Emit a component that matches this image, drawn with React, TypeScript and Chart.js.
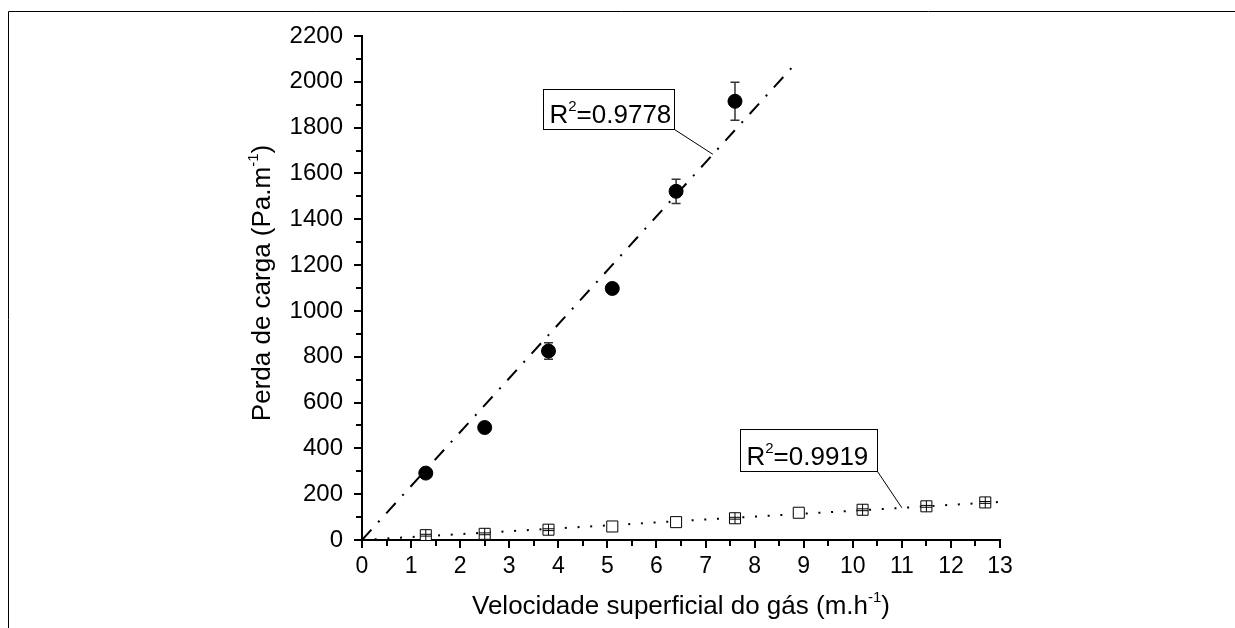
import React, { useEffect, useRef } from 'react';
import { Chart, registerables } from 'chart.js';

Chart.register(...registerables);

const FONT = '"Liberation Sans", Arial, Helvetica, sans-serif';

// ---- data ----
const upperX = [1.3, 2.5, 3.8, 5.1, 6.4, 7.6];
const upperY = [292, 491, 825, 1098, 1522, 1915];
const upperErr = [8, 6, 36, 10, 53, 83];

const lowerX = [1.3, 2.5, 3.8, 5.1, 6.4, 7.6, 8.9, 10.2, 11.5, 12.7];
const lowerY = [21, 27, 45, 59, 78, 95, 119, 132, 147, 164];
const lowerErr = [4, 4, 4, 0, 0, 4, 0, 4, 4, 4];

const upperFitRange = [0, 8.75];
const lowerFitRange = [0, 13];

const r2Values = ['0.9778', '0.9919'];
const r2AnchorX = [7.15, 11.0];

const xMin = 0;
const xMax = 13;
const xStep = 1;
const yMin = 0;
const yMax = 2200;
const yStep = 200;

const xTitleParts: [string, boolean][] = [['Velocidade superficial do gás (m.h', false], ['-1', true], [')', false]];
const yTitleParts: [string, boolean][] = [['Perda de carga (Pa.m', false], ['-1', true], [')', false]];

function slopeThroughOrigin(xs: number[], ys: number[]) {
  let sxy = 0;
  let sxx = 0;
  xs.forEach((x, i) => {
    sxy += x * ys[i];
    sxx += x * x;
  });
  return sxy / sxx;
}

const upperSlope = slopeThroughOrigin(upperX, upperY);
const lowerSlope = slopeThroughOrigin(lowerX, lowerY);

function drawRich(
  ctx: CanvasRenderingContext2D,
  parts: [string, boolean][],
  x: number,
  y: number,
  size: number,
  supSize: number,
  supRaise: number,
  align: 'left' | 'center'
) {
  const widths = parts.map(([t, sup]) => {
    ctx.font = `${sup ? supSize : size}px ${FONT}`;
    return ctx.measureText(t).width;
  });
  const total = widths.reduce((a, b) => a + b, 0);
  let cx = align === 'center' ? x - total / 2 : x;
  ctx.textAlign = 'left';
  ctx.textBaseline = 'alphabetic';
  parts.forEach(([t, sup], i) => {
    ctx.font = `${sup ? supSize : size}px ${FONT}`;
    ctx.fillText(t, cx, sup ? y - supRaise : y);
    cx += widths[i];
  });
  return total;
}

const customPlugin = {
  id: 'customDecor',
  beforeDatasetsDraw(chart: any) {
    const ctx: CanvasRenderingContext2D = chart.ctx;
    const xs = chart.scales.x;
    const ys = chart.scales.y;
    ctx.save();
    // upper error bars (behind the filled circles)
    ctx.strokeStyle = '#333';
    ctx.lineWidth = 1.5;
    upperX.forEach((xv, i) => {
      const e = upperErr[i];
      if (!e) return;
      const px = xs.getPixelForValue(xv);
      const p1 = ys.getPixelForValue(upperY[i] - e);
      const p2 = ys.getPixelForValue(upperY[i] + e);
      ctx.beginPath();
      ctx.moveTo(px, p1);
      ctx.lineTo(px, p2);
      ctx.moveTo(px - 4.5, p1);
      ctx.lineTo(px + 4.5, p1);
      ctx.moveTo(px - 4.5, p2);
      ctx.lineTo(px + 4.5, p2);
      ctx.stroke();
    });
    ctx.restore();
  },
  afterDatasetsDraw(chart: any) {
    const ctx: CanvasRenderingContext2D = chart.ctx;
    const xs = chart.scales.x;
    const ys = chart.scales.y;
    ctx.save();
    // lower error bars (inside squares)
    ctx.strokeStyle = '#000';
    ctx.lineWidth = 1;
    lowerX.forEach((xv, i) => {
      const e = lowerErr[i];
      if (!e) return;
      const px = xs.getPixelForValue(xv);
      const pc = ys.getPixelForValue(lowerY[i]);
      const p1 = ys.getPixelForValue(lowerY[i] - e);
      const p2 = ys.getPixelForValue(lowerY[i] + e);
      ctx.beginPath();
      ctx.moveTo(px, pc - 5.5);
      ctx.lineTo(px, pc + 5.5);
      ctx.moveTo(px - 5.5, p1);
      ctx.lineTo(px + 5.5, p1);
      ctx.moveTo(px - 5.5, p2);
      ctx.lineTo(px + 5.5, p2);
      ctx.stroke();
    });
    ctx.restore();
  },
  afterDraw(chart: any) {
    const ctx: CanvasRenderingContext2D = chart.ctx;
    const xs = chart.scales.x;
    const ys = chart.scales.y;
    const area = chart.chartArea;
    ctx.save();
    // frame
    ctx.strokeStyle = '#000';
    ctx.lineWidth = 1;
    ctx.beginPath();
    ctx.moveTo(8.5, chart.height);
    ctx.lineTo(8.5, 11.5);
    ctx.lineTo(chart.width, 11.5);
    ctx.stroke();

    // minor ticks
    ctx.lineWidth = 2;
    ctx.beginPath();
    for (let v = yMin + yStep / 2; v < yMax; v += yStep) {
      const py = Math.round(ys.getPixelForValue(v));
      ctx.moveTo(area.left - 1, py);
      ctx.lineTo(area.left - 6, py);
    }
    for (let v = xMin + xStep / 2; v < xMax; v += xStep) {
      const px = Math.round(xs.getPixelForValue(v));
      ctx.moveTo(px, area.bottom + 1);
      ctx.lineTo(px, area.bottom + 6);
    }
    ctx.stroke();

    ctx.fillStyle = '#000';
    // x title
    drawRich(ctx, xTitleParts, (area.left + area.right) / 2, 614, 26, 15, 12, 'center');
    // y title
    ctx.save();
    ctx.translate(270, 283);
    ctx.rotate(-Math.PI / 2);
    drawRich(ctx, yTitleParts, 0, 0, 26, 15, 12, 'center');
    ctx.restore();

    // R² labels
    const slopes = [upperSlope, lowerSlope];
    const offsets = [
      [-39, -25, 131, 40],
      [-25, -37, 137, 42],
    ];
    r2Values.forEach((val, i) => {
      const ax = xs.getPixelForValue(r2AnchorX[i]);
      const ay = ys.getPixelForValue(slopes[i] * r2AnchorX[i]);
      const [dx, dy, w, h] = offsets[i];
      const bx = Math.round(ax + dx) + 0.5;
      const by = Math.round(ay + dy) + 0.5;
      ctx.lineWidth = 1;
      ctx.strokeStyle = '#000';
      ctx.fillStyle = '#fff';
      ctx.fillRect(bx - w, by - h, w, h);
      ctx.strokeRect(bx - w, by - h, w, h);
      ctx.beginPath();
      ctx.moveTo(bx, by);
      ctx.lineTo(ax, ay);
      ctx.stroke();
      ctx.fillStyle = '#000';
      drawRich(
        ctx,
        [['R', false], ['2', true], ['=' + val, false]],
        bx - w + 6,
        by - 7,
        26,
        15,
        12,
        'left'
      );
    });
    ctx.restore();
  },
};

export default function App() {
  const canvasRef = useRef<HTMLCanvasElement | null>(null);

  useEffect(() => {
    const canvas = canvasRef.current;
    if (!canvas) return;
    const chart = new Chart(canvas, {
      type: 'scatter',
      data: {
        datasets: [
          {
            label: 'upper',
            data: upperX.map((x, i) => ({ x, y: upperY[i] })),
            pointStyle: 'circle',
            pointRadius: 7,
            pointBackgroundColor: '#000',
            pointBorderColor: '#000',
            pointBorderWidth: 1,
            showLine: false,
          },
          {
            label: 'lower',
            data: lowerX.map((x, i) => ({ x, y: lowerY[i] })),
            pointStyle: 'rect',
            pointRadius: 7.8,
            pointBackgroundColor: '#fff',
            pointBorderColor: '#000',
            pointBorderWidth: 1,
            showLine: false,
          },
          {
            label: 'upperFit',
            data: upperFitRange.map((x) => ({ x, y: upperSlope * x })),
            showLine: true,
            borderColor: '#000',
            borderWidth: 2,
            borderDash: [14, 10, 2, 10],
            pointRadius: 0,
            fill: false,
          },
          {
            label: 'lowerFit',
            data: lowerFitRange.map((x) => ({ x, y: lowerSlope * x })),
            showLine: true,
            borderColor: '#000',
            borderWidth: 2,
            borderDash: [2, 10.7],
            pointRadius: 0,
            fill: false,
          },
        ],
      },
      options: {
        animation: false,
        responsive: false,
        maintainAspectRatio: false,
        layout: { padding: { top: 36, right: 235, left: 0, bottom: 0 } },
        plugins: {
          legend: { display: false },
          tooltip: { enabled: false },
          title: { display: false },
        },
        scales: {
          x: {
            type: 'linear',
            min: xMin,
            max: xMax,
            afterFit: (scale: any) => {
              scale.height = 88;
            },
            ticks: {
              stepSize: xStep,
              color: '#000',
              font: { family: FONT, size: 23 },
              padding: 5,
              maxRotation: 0,
              autoSkip: false,
              callback: (v: any) => String(v),
            },
            grid: {
              display: true,
              drawOnChartArea: false,
              drawTicks: true,
              tickLength: 8,
              color: '#000',
              lineWidth: 2,
            },
            border: { display: true, color: '#000', width: 2 },
          },
          y: {
            type: 'linear',
            min: yMin,
            max: yMax,
            afterFit: (scale: any) => {
              scale.width = 362;
            },
            ticks: {
              stepSize: yStep,
              color: '#000',
              font: { family: FONT, size: 24 },
              padding: 11,
              autoSkip: false,
              callback: (v: any) => String(v),
            },
            grid: {
              display: true,
              drawOnChartArea: false,
              drawTicks: true,
              tickLength: 8,
              color: '#000',
              lineWidth: 2,
            },
            border: { display: true, color: '#000', width: 2 },
          },
        },
      },
      plugins: [customPlugin],
    });
    return () => chart.destroy();
  }, []);

  return (
    <div style={{ position: 'fixed', left: 0, top: 0, width: 1235, height: 628, background: '#fff' }}>
      <canvas ref={canvasRef} width={1235} height={628} style={{ width: 1235, height: 628, display: 'block' }} />
    </div>
  );
}
